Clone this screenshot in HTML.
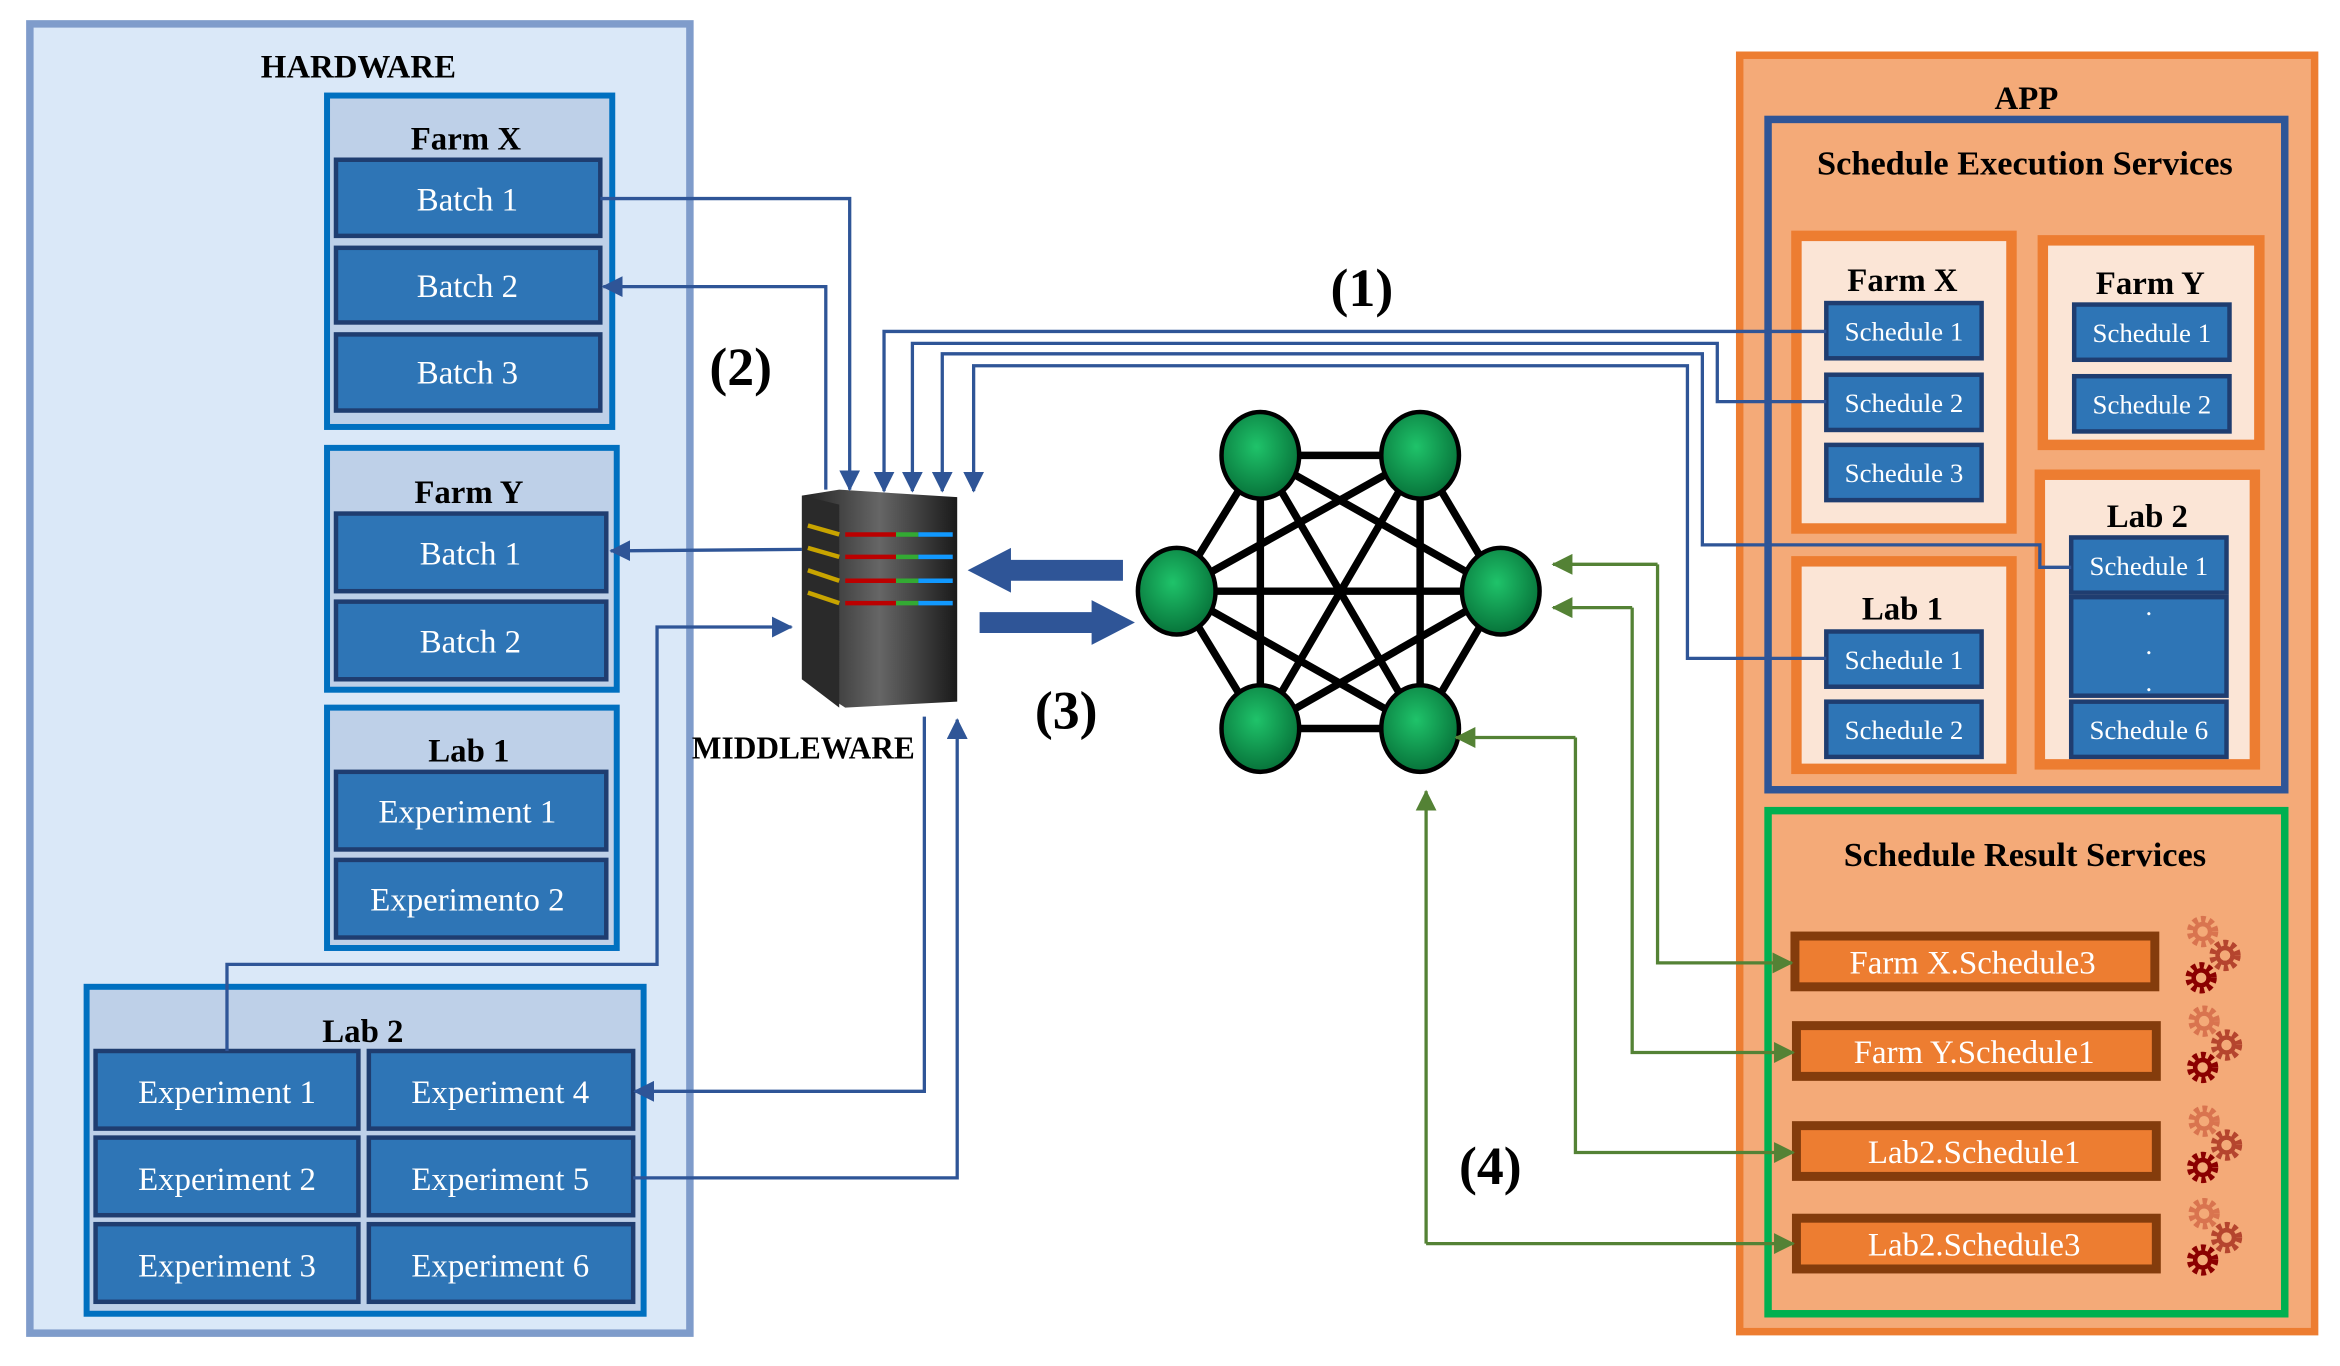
<!DOCTYPE html>
<html><head><meta charset="utf-8"><style>html,body{margin:0;padding:0;background:#fff}svg{display:block}svg text{font-family:"Liberation Serif","DejaVu Serif",serif}</style></head>
<body>
<svg width="2340" height="1366" viewBox="0 0 1567 915" preserveAspectRatio="none" xmlns="http://www.w3.org/2000/svg">
<defs>
<marker id="ab2" markerWidth="14" markerHeight="14" refX="13" refY="7" orient="auto" markerUnits="userSpaceOnUse"><path d="M0,0 L14,7 L0,14 z" fill="#2f5597"/></marker>
<marker id="ag" markerWidth="14" markerHeight="14" refX="13" refY="7" orient="auto" markerUnits="userSpaceOnUse"><path d="M0,0 L14,7 L0,14 z" fill="#548235"/></marker>
<radialGradient id="gn" cx="0.45" cy="0.4" r="0.6"><stop offset="0" stop-color="#1fc36a"/><stop offset="1" stop-color="#07733a"/></radialGradient>
<linearGradient id="sv" x1="0" x2="1"><stop offset="0" stop-color="#222"/><stop offset="0.5" stop-color="#666"/><stop offset="1" stop-color="#1a1a1a"/></linearGradient>
</defs>

<rect x="20" y="16" width="442" height="877" fill="#dae8f8" stroke="#7f9ccb" stroke-width="5"/>
<text x="240" y="52" font-size="22" font-weight="bold" text-anchor="middle">HARDWARE</text>

<g font-size="22" text-anchor="middle">
<rect x="219" y="64" width="191" height="222" fill="#bed0e8" stroke="#0070c0" stroke-width="4"/>
<text x="312" y="100" font-weight="bold">Farm X</text>
<g fill="#2e75b6" stroke="#1f3d70" stroke-width="3">
<rect x="225" y="107" width="177" height="51"/><rect x="225" y="166" width="177" height="50"/><rect x="225" y="224" width="177" height="51"/>
</g>
<g fill="#fff"><text x="313" y="141">Batch 1</text><text x="313" y="199">Batch 2</text><text x="313" y="257">Batch 3</text></g>

<rect x="219" y="300" width="194" height="162" fill="#bed0e8" stroke="#0070c0" stroke-width="4"/>
<text x="314" y="337" font-weight="bold">Farm Y</text>
<g fill="#2e75b6" stroke="#1f3d70" stroke-width="3"><rect x="225" y="344" width="181" height="52"/><rect x="225" y="403" width="181" height="52"/></g>
<g fill="#fff"><text x="315" y="378">Batch 1</text><text x="315" y="437">Batch 2</text></g>

<rect x="219" y="474" width="194" height="161" fill="#bed0e8" stroke="#0070c0" stroke-width="4"/>
<text x="314" y="510" font-weight="bold">Lab 1</text>
<g fill="#2e75b6" stroke="#1f3d70" stroke-width="3"><rect x="225" y="517" width="181" height="52"/><rect x="225" y="576" width="181" height="52"/></g>
<g fill="#fff"><text x="313" y="551">Experiment 1</text><text x="313" y="610">Experimento 2</text></g>

<rect x="58" y="661" width="373" height="219" fill="#bed0e8" stroke="#0070c0" stroke-width="4"/>
<text x="243" y="698" font-weight="bold">Lab 2</text>
<g fill="#2e75b6" stroke="#1f3d70" stroke-width="3">
<rect x="64" y="704" width="176" height="52"/><rect x="247" y="704" width="177" height="52"/>
<rect x="64" y="762" width="176" height="52"/><rect x="247" y="762" width="177" height="52"/>
<rect x="64" y="820" width="176" height="52"/><rect x="247" y="820" width="177" height="52"/>
</g>
<g fill="#fff"><text x="152" y="739">Experiment 1</text><text x="335" y="739">Experiment 4</text>
<text x="152" y="797">Experiment 2</text><text x="335" y="797">Experiment 5</text>
<text x="152" y="855">Experiment 3</text><text x="335" y="855">Experiment 6</text></g>
</g>

<path d="M537,332 L562,328 L641,333 L641,470 L566,474 L537,455 z" fill="url(#sv)"/>
<path d="M537,332 L562,338 L562,474 L537,455 z" fill="#2a2a2a"/>
<g stroke-width="3">
<g stroke="#c8a400"><line x1="541" y1="352" x2="562" y2="358"/><line x1="541" y1="367" x2="562" y2="373"/><line x1="541" y1="382" x2="562" y2="389"/><line x1="541" y1="397" x2="562" y2="404"/></g>
<g><line x1="566" y1="358" x2="600" y2="358" stroke="#b00"/><line x1="600" y1="358" x2="615" y2="358" stroke="#3a3"/><line x1="615" y1="358" x2="638" y2="358" stroke="#19f"/>
<line x1="566" y1="373" x2="600" y2="373" stroke="#b00"/><line x1="600" y1="373" x2="615" y2="373" stroke="#3a3"/><line x1="615" y1="373" x2="638" y2="373" stroke="#19f"/>
<line x1="566" y1="389" x2="600" y2="389" stroke="#b00"/><line x1="600" y1="389" x2="615" y2="389" stroke="#3a3"/><line x1="615" y1="389" x2="638" y2="389" stroke="#19f"/>
<line x1="566" y1="404" x2="600" y2="404" stroke="#b00"/><line x1="600" y1="404" x2="615" y2="404" stroke="#3a3"/><line x1="615" y1="404" x2="638" y2="404" stroke="#19f"/></g>
</g>
<text x="538" y="508" font-size="21" font-weight="bold" text-anchor="middle">MIDDLEWARE</text>

<path d="M752,375 L677,375 L677,367 L648,382 L677,397 L677,389 L752,389 z" fill="#2f5597"/>
<path d="M656,410 L731,410 L731,402 L760,417 L731,432 L731,424 L656,424 z" fill="#2f5597"/>

<g font-size="36" font-weight="bold" text-anchor="middle">
<text x="912" y="205">(1)</text><text x="496" y="258">(2)</text><text x="714" y="488">(3)</text><text x="998" y="793">(4)</text>
</g>

<g stroke="#000" stroke-width="5">
<line x1="844" y1="305" x2="951" y2="305"/><line x1="844" y1="305" x2="788" y2="396"/><line x1="844" y1="305" x2="1005" y2="396"/><line x1="844" y1="305" x2="844" y2="488"/><line x1="844" y1="305" x2="951" y2="488"/>
<line x1="951" y1="305" x2="788" y2="396"/><line x1="951" y1="305" x2="1005" y2="396"/><line x1="951" y1="305" x2="844" y2="488"/><line x1="951" y1="305" x2="951" y2="488"/>
<line x1="788" y1="396" x2="1005" y2="396"/><line x1="788" y1="396" x2="844" y2="488"/><line x1="788" y1="396" x2="951" y2="488"/>
<line x1="1005" y1="396" x2="844" y2="488"/><line x1="1005" y1="396" x2="951" y2="488"/><line x1="844" y1="488" x2="951" y2="488"/>
</g>
<g fill="url(#gn)" stroke="#000" stroke-width="3">
<ellipse cx="844" cy="305" rx="26" ry="29"/><ellipse cx="951" cy="305" rx="26" ry="29"/>
<ellipse cx="788" cy="396" rx="26" ry="29"/><ellipse cx="1005" cy="396" rx="26" ry="29"/>
<ellipse cx="844" cy="488" rx="26" ry="29"/><ellipse cx="951" cy="488" rx="26" ry="29"/>
</g>

<rect x="1165" y="37" width="385" height="855" fill="#f4aa78" stroke="#ed7d31" stroke-width="5"/>
<text x="1357" y="73" font-size="22" font-weight="bold" text-anchor="middle">APP</text>
<rect x="1184" y="80" width="346" height="449" fill="#f4aa78" stroke="#2f5597" stroke-width="5"/>
<text x="1356" y="117" font-size="23" font-weight="bold" text-anchor="middle">Schedule Execution Services</text>
<g fill="#fbe5d6" stroke="#ed7d31" stroke-width="7">
<rect x="1203" y="158" width="144" height="196"/><rect x="1368" y="161" width="145" height="137"/>
<rect x="1366" y="318" width="144" height="194"/><rect x="1203" y="376" width="144" height="139"/>
</g>
<g font-size="22" font-weight="bold" text-anchor="middle">
<text x="1274" y="195">Farm X</text><text x="1440" y="197">Farm Y</text><text x="1438" y="353">Lab 2</text><text x="1274" y="415">Lab 1</text>
</g>
<g fill="#2e75b6" stroke="#1f3d70" stroke-width="3">
<rect x="1223" y="203" width="104" height="37"/><rect x="1223" y="251" width="104" height="37"/><rect x="1223" y="298" width="104" height="37"/>
<rect x="1389" y="204" width="104" height="37"/><rect x="1389" y="252" width="104" height="37"/>
<rect x="1387" y="360" width="104" height="37"/><rect x="1387" y="400" width="104" height="66"/><rect x="1387" y="470" width="104" height="37"/>
<rect x="1223" y="423" width="104" height="37"/><rect x="1223" y="470" width="104" height="37"/>
</g>
<g font-size="18" fill="#fff" text-anchor="middle">
<text x="1275" y="228">Schedule 1</text><text x="1275" y="276">Schedule 2</text><text x="1275" y="323">Schedule 3</text>
<text x="1441" y="229">Schedule 1</text><text x="1441" y="277">Schedule 2</text>
<text x="1439" y="385">Schedule 1</text><text x="1439" y="495">Schedule 6</text>
<text x="1275" y="448">Schedule 1</text><text x="1275" y="495">Schedule 2</text>
<text x="1439" y="412">.</text><text x="1439" y="438">.</text><text x="1439" y="463">.</text>
</g>

<rect x="1184" y="543" width="346" height="337" fill="#f4aa78" stroke="#00b050" stroke-width="5"/>
<text x="1356" y="580" font-size="23" font-weight="bold" text-anchor="middle">Schedule Result Services</text>
<g fill="#ed7d31" stroke="#843c0c" stroke-width="6">
<rect x="1202" y="627" width="241" height="34"/><rect x="1203" y="687" width="241" height="34"/>
<rect x="1203" y="754" width="241" height="34"/><rect x="1203" y="816" width="241" height="34"/>
</g>
<g font-size="22" fill="#fff" text-anchor="middle">
<text x="1321" y="652">Farm X.Schedule3</text><text x="1322" y="712">Farm Y.Schedule1</text>
<text x="1322" y="779">Lab2.Schedule1</text><text x="1322" y="841">Lab2.Schedule3</text>
</g>
<g id="gears">
<g transform="translate(1475,624)"><circle r="8" fill="none" stroke="#d9744f" stroke-width="5" stroke-dasharray="3 2.2"/><circle r="5" fill="none" stroke="#d9744f" stroke-width="3"/></g>
<g transform="translate(1490,640)"><circle r="8" fill="none" stroke="#b5452e" stroke-width="5" stroke-dasharray="3 2.2"/><circle r="5" fill="none" stroke="#b5452e" stroke-width="3"/></g>
<g transform="translate(1474,655)"><circle r="8" fill="none" stroke="#8b0000" stroke-width="5" stroke-dasharray="3 2.2"/><circle r="5" fill="none" stroke="#8b0000" stroke-width="3"/></g>
</g>
<use href="#gears" transform="translate(1,60)"/>
<use href="#gears" transform="translate(1,127)"/>
<use href="#gears" transform="translate(1,189)"/>

<g fill="none" stroke="#2f5597" stroke-width="2.2">
<polyline points="402,133 569,133 569,328" marker-end="url(#ab2)"/>
<polyline points="553,328 553,192 404,192" marker-end="url(#ab2)"/>
<polyline points="537,368 409,369" marker-end="url(#ab2)"/>
<polyline points="152,704 152,646 440,646 440,420 530,420" marker-end="url(#ab2)"/>
<polyline points="619,480 619,731 425,731" marker-end="url(#ab2)"/>
<polyline points="424,789 641,789 641,482" marker-end="url(#ab2)"/>
<polyline points="1223,222 592,222 592,329" marker-end="url(#ab2)"/>
<polyline points="1223,269 1150,269 1150,230 611,230 611,329" marker-end="url(#ab2)"/>
<polyline points="1387,380 1366,380 1366,365 1140,365 1140,237 631,237 631,329" marker-end="url(#ab2)"/>
<polyline points="1223,441 1130,441 1130,245 652,245 652,329" marker-end="url(#ab2)"/>
</g>

<g fill="none" stroke="#548235" stroke-width="2.2">
<polyline points="1110,378 1110,645 1200,645" marker-end="url(#ag)"/><polyline points="1110,378 1040,378" marker-end="url(#ag)"/>
<polyline points="1093,407 1093,705 1201,705" marker-end="url(#ag)"/><polyline points="1093,407 1040,407" marker-end="url(#ag)"/>
<polyline points="1055,494 1055,772 1201,772" marker-end="url(#ag)"/><polyline points="1055,494 975,494" marker-end="url(#ag)"/>
<polyline points="955,833 1201,833" marker-end="url(#ag)"/><polyline points="955,833 955,530" marker-end="url(#ag)"/>
</g>
</svg>
</body></html>
